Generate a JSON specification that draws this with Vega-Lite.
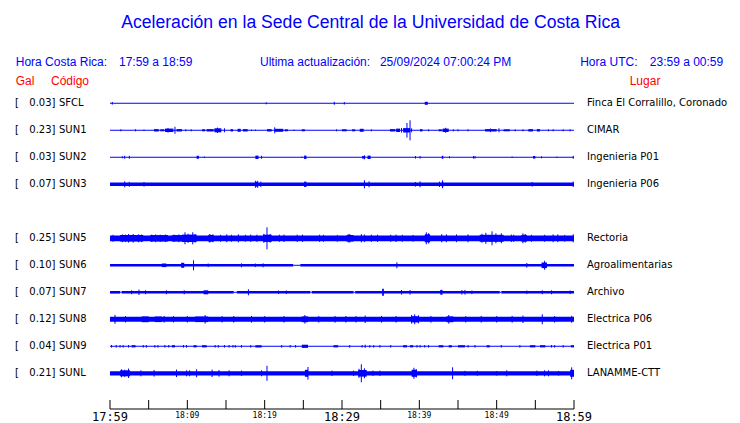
{
  "$schema": "https://vega.github.io/schema/vega-lite/v6.json",
  "width": 740,
  "height": 423,
  "padding": 0,
  "autosize": {"type": "fit", "contains": "padding"},
  "background": "white",
  "config": {"view": {"stroke": null}},
  "datasets": {
    "one": [{}],
    "stations": [
      {"s": "SFCL", "i": 0, "gal": "0.03", "lugar": "Finca El Corralillo, Coronado"},
      {"s": "SUN1", "i": 1, "gal": "0.23", "lugar": "CIMAR"},
      {"s": "SUN2", "i": 2, "gal": "0.03", "lugar": "Ingenieria P01"},
      {"s": "SUN3", "i": 3, "gal": "0.07", "lugar": "Ingenieria P06"},
      {"s": "SUN5", "i": 5, "gal": "0.25", "lugar": "Rectoria"},
      {"s": "SUN6", "i": 6, "gal": "0.10", "lugar": "Agroalimentarias"},
      {"s": "SUN7", "i": 7, "gal": "0.07", "lugar": "Archivo"},
      {"s": "SUN8", "i": 8, "gal": "0.12", "lugar": "Electrica P06"},
      {"s": "SUN9", "i": 9, "gal": "0.04", "lugar": "Electrica P01"},
      {"s": "SUNL", "i": 10, "gal": "0.21", "lugar": "LANAMME-CTT"}
    ],
    "ticks": [
      {"t": 0, "lab": "17:59", "big": 1}, {"t": 5, "lab": "", "big": 0}, {"t": 10, "lab": "18:09", "big": 0},
      {"t": 15, "lab": "", "big": 0}, {"t": 20, "lab": "18:19", "big": 0}, {"t": 25, "lab": "", "big": 0},
      {"t": 30, "lab": "18:29", "big": 1}, {"t": 35, "lab": "", "big": 0}, {"t": 40, "lab": "18:39", "big": 0},
      {"t": 45, "lab": "", "big": 0}, {"t": 50, "lab": "18:49", "big": 0}, {"t": 55, "lab": "", "big": 0},
      {"t": 60, "lab": "18:59", "big": 1}
    ],
    "bursts": [
      {"s": "SFCL", "t0": 0, "t1": 60, "a": 0.5},
      {"s": "SFCL", "t0": 40.7, "t1": 41.1, "a": 1.5},
      {"s": "SUN1", "t0": 0, "t1": 60, "a": 0.5},
      {"s": "SUN1", "t0": 5.7, "t1": 6.3, "a": 1.2},
      {"s": "SUN1", "t0": 6.5, "t1": 7.0, "a": 1.0},
      {"s": "SUN1", "t0": 7.1, "t1": 8.2, "a": 1.7},
      {"s": "SUN1", "t0": 8.6, "t1": 9.3, "a": 1.2},
      {"s": "SUN1", "t0": 11.9, "t1": 12.3, "a": 1.0},
      {"s": "SUN1", "t0": 12.5, "t1": 13.4, "a": 1.2},
      {"s": "SUN1", "t0": 13.5, "t1": 14.4, "a": 2.0},
      {"s": "SUN1", "t0": 15.6, "t1": 15.9, "a": 1.2},
      {"s": "SUN1", "t0": 16.5, "t1": 16.9, "a": 1.5},
      {"s": "SUN1", "t0": 17.2, "t1": 17.8, "a": 1.2},
      {"s": "SUN1", "t0": 20.3, "t1": 20.9, "a": 1.2},
      {"s": "SUN1", "t0": 21.3, "t1": 22.4, "a": 1.5},
      {"s": "SUN1", "t0": 22.6, "t1": 23.0, "a": 1.0},
      {"s": "SUN1", "t0": 24.8, "t1": 25.2, "a": 1.0},
      {"s": "SUN1", "t0": 30.0, "t1": 30.6, "a": 1.0},
      {"s": "SUN1", "t0": 31.3, "t1": 31.7, "a": 1.0},
      {"s": "SUN1", "t0": 32.3, "t1": 32.8, "a": 1.5},
      {"s": "SUN1", "t0": 36.2, "t1": 36.9, "a": 1.2},
      {"s": "SUN1", "t0": 37.0, "t1": 37.5, "a": 1.7},
      {"s": "SUN1", "t0": 37.9, "t1": 38.8, "a": 2.2},
      {"s": "SUN1", "t0": 40.1, "t1": 40.4, "a": 1.2},
      {"s": "SUN1", "t0": 42.5, "t1": 42.9, "a": 1.0},
      {"s": "SUN1", "t0": 43.0, "t1": 43.8, "a": 1.7},
      {"s": "SUN1", "t0": 48.5, "t1": 50.0, "a": 1.2},
      {"s": "SUN1", "t0": 50.9, "t1": 51.7, "a": 1.0},
      {"s": "SUN1", "t0": 54.1, "t1": 54.7, "a": 1.2},
      {"s": "SUN1", "t0": 55.2, "t1": 55.6, "a": 1.2},
      {"s": "SUN2", "t0": 0, "t1": 60, "a": 0.5},
      {"s": "SUN2", "t0": 11.2, "t1": 11.5, "a": 1.5},
      {"s": "SUN2", "t0": 18.8, "t1": 19.2, "a": 1.7},
      {"s": "SUN2", "t0": 25.1, "t1": 25.4, "a": 1.7},
      {"s": "SUN2", "t0": 32.6, "t1": 33.0, "a": 1.3},
      {"s": "SUN2", "t0": 33.3, "t1": 33.7, "a": 1.7},
      {"s": "SUN2", "t0": 42.9, "t1": 43.1, "a": 1.5},
      {"s": "SUN2", "t0": 54.7, "t1": 55.0, "a": 1.3},
      {"s": "SUN3", "t0": 0, "t1": 60, "a": 1.8},
      {"s": "SUN3", "t0": 18.8, "t1": 19.1, "a": 2.5},
      {"s": "SUN3", "t0": 25.1, "t1": 25.4, "a": 2.7},
      {"s": "SUN3", "t0": 42.9, "t1": 43.1, "a": 2.5},
      {"s": "SUN5", "t0": 0, "t1": 60, "a": 2.9},
      {"s": "SUN5", "t0": 1.3, "t1": 4.3, "a": 3.3},
      {"s": "SUN5", "t0": 5.2, "t1": 7.5, "a": 3.2},
      {"s": "SUN5", "t0": 8.0, "t1": 9.3, "a": 3.2},
      {"s": "SUN5", "t0": 9.3, "t1": 11.2, "a": 3.7},
      {"s": "SUN5", "t0": 12.7, "t1": 13.4, "a": 3.4},
      {"s": "SUN5", "t0": 19.8, "t1": 20.9, "a": 3.6},
      {"s": "SUN5", "t0": 30.6, "t1": 31.5, "a": 3.3},
      {"s": "SUN5", "t0": 40.7, "t1": 41.4, "a": 4.0},
      {"s": "SUN5", "t0": 47.8, "t1": 50.9, "a": 3.5},
      {"s": "SUN5", "t0": 53.2, "t1": 53.9, "a": 3.4},
      {"s": "SUN6", "t0": 0, "t1": 23.7, "a": 1.3},
      {"s": "SUN6", "t0": 23.7, "t1": 24.6, "a": 0.5},
      {"s": "SUN6", "t0": 24.6, "t1": 60, "a": 1.3},
      {"s": "SUN6", "t0": 6.7, "t1": 7.3, "a": 1.8},
      {"s": "SUN6", "t0": 9.2, "t1": 9.6, "a": 2.5},
      {"s": "SUN6", "t0": 55.8, "t1": 56.5, "a": 2.8},
      {"s": "SUN7", "t0": 0, "t1": 1.3, "a": 1.3},
      {"s": "SUN7", "t0": 1.3, "t1": 1.5, "a": 0.5},
      {"s": "SUN7", "t0": 1.5, "t1": 16.0, "a": 1.3},
      {"s": "SUN7", "t0": 16.0, "t1": 16.4, "a": 0.5},
      {"s": "SUN7", "t0": 16.4, "t1": 25.9, "a": 1.3},
      {"s": "SUN7", "t0": 25.9, "t1": 26.1, "a": 0.5},
      {"s": "SUN7", "t0": 26.1, "t1": 31.5, "a": 1.3},
      {"s": "SUN7", "t0": 31.5, "t1": 31.7, "a": 0.5},
      {"s": "SUN7", "t0": 31.7, "t1": 50.4, "a": 1.3},
      {"s": "SUN7", "t0": 50.4, "t1": 50.6, "a": 0.5},
      {"s": "SUN7", "t0": 50.6, "t1": 60, "a": 1.3},
      {"s": "SUN7", "t0": 12.1, "t1": 12.7, "a": 2.0},
      {"s": "SUN7", "t0": 35.2, "t1": 35.4, "a": 3.3},
      {"s": "SUN7", "t0": 42.7, "t1": 43.0, "a": 2.4},
      {"s": "SUN8", "t0": 0, "t1": 60, "a": 2.5},
      {"s": "SUN8", "t0": 4.1, "t1": 5.0, "a": 2.9},
      {"s": "SUN8", "t0": 5.8, "t1": 6.7, "a": 2.8},
      {"s": "SUN8", "t0": 11.0, "t1": 12.7, "a": 2.8},
      {"s": "SUN8", "t0": 24.8, "t1": 25.6, "a": 2.9},
      {"s": "SUN8", "t0": 39.0, "t1": 39.9, "a": 3.1},
      {"s": "SUN8", "t0": 43.5, "t1": 44.4, "a": 2.9},
      {"s": "SUN9", "t0": 0, "t1": 60, "a": 0.5},
      {"s": "SUN9", "t0": 2.8, "t1": 3.3, "a": 1.1},
      {"s": "SUN9", "t0": 8.0, "t1": 8.4, "a": 1.1},
      {"s": "SUN9", "t0": 10.8, "t1": 11.2, "a": 1.1},
      {"s": "SUN9", "t0": 11.9, "t1": 12.5, "a": 1.1},
      {"s": "SUN9", "t0": 18.8, "t1": 19.6, "a": 1.1},
      {"s": "SUN9", "t0": 24.8, "t1": 25.6, "a": 1.6},
      {"s": "SUN9", "t0": 28.9, "t1": 29.5, "a": 1.1},
      {"s": "SUN9", "t0": 37.9, "t1": 38.4, "a": 1.1},
      {"s": "SUN9", "t0": 38.8, "t1": 39.2, "a": 1.1},
      {"s": "SUN9", "t0": 42.5, "t1": 43.1, "a": 1.1},
      {"s": "SUN9", "t0": 43.8, "t1": 44.2, "a": 1.1},
      {"s": "SUN9", "t0": 45.0, "t1": 45.9, "a": 1.1},
      {"s": "SUN9", "t0": 48.7, "t1": 49.1, "a": 1.1},
      {"s": "SUN9", "t0": 54.3, "t1": 55.0, "a": 1.1},
      {"s": "SUN9", "t0": 55.6, "t1": 56.3, "a": 1.1},
      {"s": "SUN9", "t0": 59.6, "t1": 60.0, "a": 1.1},
      {"s": "SUNL", "t0": 0, "t1": 60, "a": 2.1},
      {"s": "SUNL", "t0": 1.3, "t1": 2.6, "a": 3.0},
      {"s": "SUNL", "t0": 25.2, "t1": 25.6, "a": 3.5},
      {"s": "SUNL", "t0": 32.1, "t1": 33.2, "a": 3.3},
      {"s": "SUNL", "t0": 39.0, "t1": 39.7, "a": 3.5},
      {"s": "SUNL", "t0": 59.5, "t1": 60.0, "a": 3.5}
    ],
    "spikes": [
      {"s": "SFCL", "t": 0.3, "a": 1.3}, {"s": "SFCL", "t": 20.2, "a": 1.0}, {"s": "SFCL", "t": 29.0, "a": 1.5}, {"s": "SFCL", "t": 30.3, "a": 1.2},
      {"s": "SUN1", "t": 1.4, "a": 1}, {"s": "SUN1", "t": 3.3, "a": 1}, {"s": "SUN1", "t": 4.4, "a": 0.7}, {"s": "SUN1", "t": 8.4, "a": 3.5},
      {"s": "SUN1", "t": 9.8, "a": 1}, {"s": "SUN1", "t": 10.5, "a": 1}, {"s": "SUN1", "t": 14.8, "a": 2}, {"s": "SUN1", "t": 18.3, "a": 0.7},
      {"s": "SUN1", "t": 18.8, "a": 0.7}, {"s": "SUN1", "t": 21.3, "a": 3}, {"s": "SUN1", "t": 23.8, "a": 0.7}, {"s": "SUN1", "t": 29.3, "a": 1},
      {"s": "SUN1", "t": 33.8, "a": 1}, {"s": "SUN1", "t": 37.7, "a": 2.3}, {"s": "SUN1", "t": 38.4, "a": 7.3}, {"s": "SUN1", "t": 38.8, "a": 10},
      {"s": "SUN1", "t": 39.0, "a": 2}, {"s": "SUN1", "t": 41.2, "a": 1}, {"s": "SUN1", "t": 44.4, "a": 1}, {"s": "SUN1", "t": 45.0, "a": 1},
      {"s": "SUN1", "t": 46.3, "a": 1}, {"s": "SUN1", "t": 50.3, "a": 2}, {"s": "SUN1", "t": 52.4, "a": 1}, {"s": "SUN1", "t": 53.4, "a": 1},
      {"s": "SUN1", "t": 56.7, "a": 1}, {"s": "SUN1", "t": 57.3, "a": 1}, {"s": "SUN1", "t": 58.6, "a": 1}, {"s": "SUN1", "t": 59.5, "a": 1},
      {"s": "SUN1", "t": 7.5, "a": 2.3}, {"s": "SUN1", "t": 13.9, "a": 2.7}, {"s": "SUN1", "t": 43.4, "a": 2.5}, {"s": "SUN1", "t": 49.2, "a": 1.8},
      {"s": "SUN2", "t": 1.6, "a": 1}, {"s": "SUN2", "t": 1.9, "a": 1.5}, {"s": "SUN2", "t": 2.5, "a": 1.5}, {"s": "SUN2", "t": 12.2, "a": 0.7},
      {"s": "SUN2", "t": 19.6, "a": 1.5}, {"s": "SUN2", "t": 24.8, "a": 0.7}, {"s": "SUN2", "t": 32.9, "a": 2}, {"s": "SUN2", "t": 39.5, "a": 1.3},
      {"s": "SUN2", "t": 40.1, "a": 1.3}, {"s": "SUN2", "t": 43.9, "a": 1}, {"s": "SUN2", "t": 47.0, "a": 1.3}, {"s": "SUN2", "t": 47.2, "a": 1.3},
      {"s": "SUN2", "t": 52.0, "a": 0.7}, {"s": "SUN2", "t": 55.8, "a": 1}, {"s": "SUN2", "t": 57.8, "a": 0.7}, {"s": "SUN2", "t": 59.9, "a": 1.5},
      {"s": "SUN3", "t": 1.9, "a": 3}, {"s": "SUN3", "t": 2.5, "a": 2.5}, {"s": "SUN3", "t": 4.4, "a": 2.3}, {"s": "SUN3", "t": 18.8, "a": 3.5},
      {"s": "SUN3", "t": 19.1, "a": 3.5}, {"s": "SUN3", "t": 19.5, "a": 2.7}, {"s": "SUN3", "t": 32.9, "a": 4}, {"s": "SUN3", "t": 33.5, "a": 3},
      {"s": "SUN3", "t": 39.5, "a": 2.3}, {"s": "SUN3", "t": 40.1, "a": 3}, {"s": "SUN3", "t": 42.6, "a": 2.7}, {"s": "SUN3", "t": 43.0, "a": 4},
      {"s": "SUN3", "t": 54.6, "a": 2.3}, {"s": "SUN3", "t": 59.9, "a": 2.7},
      {"s": "SUN5", "t": 2.4, "a": 4.3}, {"s": "SUN5", "t": 3.0, "a": 4.3}, {"s": "SUN5", "t": 3.7, "a": 4.0}, {"s": "SUN5", "t": 9.7, "a": 6},
      {"s": "SUN5", "t": 10.7, "a": 6}, {"s": "SUN5", "t": 15.1, "a": 4}, {"s": "SUN5", "t": 15.7, "a": 3.5}, {"s": "SUN5", "t": 16.6, "a": 4},
      {"s": "SUN5", "t": 20.3, "a": 11}, {"s": "SUN5", "t": 31.0, "a": 4.3}, {"s": "SUN5", "t": 40.9, "a": 6}, {"s": "SUN5", "t": 46.3, "a": 4},
      {"s": "SUN5", "t": 48.6, "a": 5.5}, {"s": "SUN5", "t": 49.4, "a": 7}, {"s": "SUN5", "t": 50.6, "a": 5}, {"s": "SUN5", "t": 53.4, "a": 5},
      {"s": "SUN5", "t": 54.5, "a": 3.5}, {"s": "SUN5", "t": 56.2, "a": 3.5}, {"s": "SUN5", "t": 59.9, "a": 4},
      {"s": "SUN5", "t": 0.4, "a": 3.5}, {"s": "SUN5", "t": 1.6, "a": 3.9}, {"s": "SUN5", "t": 2.0, "a": 3.7}, {"s": "SUN5", "t": 4.1, "a": 3.8},
      {"s": "SUN5", "t": 5.4, "a": 3.7}, {"s": "SUN5", "t": 5.9, "a": 3.9}, {"s": "SUN5", "t": 6.5, "a": 3.6}, {"s": "SUN5", "t": 7.2, "a": 3.8},
      {"s": "SUN5", "t": 8.3, "a": 3.7}, {"s": "SUN5", "t": 8.9, "a": 3.9}, {"s": "SUN5", "t": 10.1, "a": 4.6}, {"s": "SUN5", "t": 11.0, "a": 4.3},
      {"s": "SUN5", "t": 12.9, "a": 4.3}, {"s": "SUN5", "t": 13.3, "a": 3.9}, {"s": "SUN5", "t": 14.3, "a": 3.5}, {"s": "SUN5", "t": 17.5, "a": 3.5},
      {"s": "SUN5", "t": 18.2, "a": 3.7}, {"s": "SUN5", "t": 19.0, "a": 3.6}, {"s": "SUN5", "t": 19.9, "a": 4.5}, {"s": "SUN5", "t": 20.7, "a": 4.3},
      {"s": "SUN5", "t": 21.9, "a": 3.6}, {"s": "SUN5", "t": 22.5, "a": 3.7}, {"s": "SUN5", "t": 24.2, "a": 3.6}, {"s": "SUN5", "t": 24.9, "a": 3.7},
      {"s": "SUN5", "t": 27.1, "a": 3.6}, {"s": "SUN5", "t": 27.6, "a": 3.5}, {"s": "SUN5", "t": 29.4, "a": 3.4}, {"s": "SUN5", "t": 30.8, "a": 4.1},
      {"s": "SUN5", "t": 32.5, "a": 4.1}, {"s": "SUN5", "t": 32.9, "a": 3.8}, {"s": "SUN5", "t": 33.8, "a": 3.6}, {"s": "SUN5", "t": 34.6, "a": 3.6},
      {"s": "SUN5", "t": 36.3, "a": 3.6}, {"s": "SUN5", "t": 37.0, "a": 3.7}, {"s": "SUN5", "t": 37.8, "a": 3.5}, {"s": "SUN5", "t": 39.2, "a": 3.4},
      {"s": "SUN5", "t": 41.2, "a": 5.2}, {"s": "SUN5", "t": 42.9, "a": 4.1}, {"s": "SUN5", "t": 43.5, "a": 3.9}, {"s": "SUN5", "t": 44.8, "a": 3.9},
      {"s": "SUN5", "t": 48.1, "a": 4.5}, {"s": "SUN5", "t": 49.9, "a": 5.0}, {"s": "SUN5", "t": 51.9, "a": 3.7}, {"s": "SUN5", "t": 52.2, "a": 3.6},
      {"s": "SUN5", "t": 53.7, "a": 4.3}, {"s": "SUN5", "t": 57.3, "a": 3.9}, {"s": "SUN5", "t": 57.9, "a": 3.9}, {"s": "SUN5", "t": 58.8, "a": 3.4},
      {"s": "SUN6", "t": 10.8, "a": 5}, {"s": "SUN6", "t": 12.7, "a": 1.8}, {"s": "SUN6", "t": 17.0, "a": 2}, {"s": "SUN6", "t": 18.8, "a": 1.8},
      {"s": "SUN6", "t": 19.8, "a": 2}, {"s": "SUN6", "t": 37.1, "a": 3}, {"s": "SUN6", "t": 53.9, "a": 2.3}, {"s": "SUN6", "t": 56.2, "a": 4.5},
      {"s": "SUN7", "t": 2.8, "a": 2}, {"s": "SUN7", "t": 3.75, "a": 2.7}, {"s": "SUN7", "t": 4.6, "a": 2}, {"s": "SUN7", "t": 7.3, "a": 2},
      {"s": "SUN7", "t": 9.6, "a": 2}, {"s": "SUN7", "t": 17.9, "a": 3}, {"s": "SUN7", "t": 21.8, "a": 1.8}, {"s": "SUN7", "t": 22.8, "a": 1.8},
      {"s": "SUN7", "t": 35.3, "a": 3.7}, {"s": "SUN7", "t": 37.7, "a": 2.3}, {"s": "SUN7", "t": 38.8, "a": 2.3}, {"s": "SUN7", "t": 45.5, "a": 2.3},
      {"s": "SUN7", "t": 45.9, "a": 2.3}, {"s": "SUN7", "t": 46.8, "a": 1.8}, {"s": "SUN7", "t": 53.9, "a": 1.8}, {"s": "SUN7", "t": 55.9, "a": 2},
      {"s": "SUN7", "t": 57.1, "a": 2}, {"s": "SUN7", "t": 59.5, "a": 1.8},
      {"s": "SUN8", "t": 0.65, "a": 4.5}, {"s": "SUN8", "t": 2.0, "a": 3.2}, {"s": "SUN8", "t": 7.0, "a": 3.3}, {"s": "SUN8", "t": 8.2, "a": 3.2},
      {"s": "SUN8", "t": 10.0, "a": 3.2}, {"s": "SUN8", "t": 12.3, "a": 4.3}, {"s": "SUN8", "t": 14.5, "a": 3.2}, {"s": "SUN8", "t": 16.0, "a": 3.3},
      {"s": "SUN8", "t": 18.3, "a": 3.4}, {"s": "SUN8", "t": 20.0, "a": 3.2}, {"s": "SUN8", "t": 22.5, "a": 3.3}, {"s": "SUN8", "t": 25.2, "a": 4.3},
      {"s": "SUN8", "t": 27.0, "a": 3.2}, {"s": "SUN8", "t": 29.1, "a": 3.4}, {"s": "SUN8", "t": 30.5, "a": 3.3}, {"s": "SUN8", "t": 31.8, "a": 3.2},
      {"s": "SUN8", "t": 33.0, "a": 3.7}, {"s": "SUN8", "t": 35.1, "a": 3.4}, {"s": "SUN8", "t": 37.0, "a": 3.3}, {"s": "SUN8", "t": 39.0, "a": 4.3},
      {"s": "SUN8", "t": 39.4, "a": 5}, {"s": "SUN8", "t": 39.9, "a": 4}, {"s": "SUN8", "t": 41.5, "a": 3.3}, {"s": "SUN8", "t": 43.8, "a": 4.3},
      {"s": "SUN8", "t": 46.0, "a": 3.2}, {"s": "SUN8", "t": 48.0, "a": 3.3}, {"s": "SUN8", "t": 50.0, "a": 3.2}, {"s": "SUN8", "t": 52.0, "a": 3.4},
      {"s": "SUN8", "t": 53.4, "a": 3.7}, {"s": "SUN8", "t": 55.9, "a": 5}, {"s": "SUN8", "t": 57.5, "a": 3.3}, {"s": "SUN8", "t": 59.7, "a": 3.5},
      {"s": "SUN9", "t": 0.2, "a": 1.3}, {"s": "SUN9", "t": 0.8, "a": 1.3}, {"s": "SUN9", "t": 1.3, "a": 1.3}, {"s": "SUN9", "t": 1.7, "a": 1.3},
      {"s": "SUN9", "t": 2.4, "a": 1.3}, {"s": "SUN9", "t": 4.3, "a": 1.3}, {"s": "SUN9", "t": 4.7, "a": 1.3}, {"s": "SUN9", "t": 5.8, "a": 1.3},
      {"s": "SUN9", "t": 6.2, "a": 1.3}, {"s": "SUN9", "t": 7.1, "a": 1.3}, {"s": "SUN9", "t": 7.6, "a": 1.3}, {"s": "SUN9", "t": 9.5, "a": 1.3},
      {"s": "SUN9", "t": 9.9, "a": 1.3}, {"s": "SUN9", "t": 13.6, "a": 1.3}, {"s": "SUN9", "t": 14.0, "a": 1.3}, {"s": "SUN9", "t": 14.8, "a": 1.3},
      {"s": "SUN9", "t": 15.4, "a": 1.3}, {"s": "SUN9", "t": 15.9, "a": 1.3}, {"s": "SUN9", "t": 16.2, "a": 1.3}, {"s": "SUN9", "t": 17.0, "a": 1.3},
      {"s": "SUN9", "t": 18.2, "a": 1.3}, {"s": "SUN9", "t": 22.2, "a": 1.3}, {"s": "SUN9", "t": 23.3, "a": 1.3}, {"s": "SUN9", "t": 24.0, "a": 1.3},
      {"s": "SUN9", "t": 31.0, "a": 1.3}, {"s": "SUN9", "t": 32.6, "a": 1.3}, {"s": "SUN9", "t": 33.0, "a": 1.6}, {"s": "SUN9", "t": 33.6, "a": 1.3},
      {"s": "SUN9", "t": 34.1, "a": 1.3}, {"s": "SUN9", "t": 34.9, "a": 1.3}, {"s": "SUN9", "t": 36.3, "a": 1.3}, {"s": "SUN9", "t": 39.7, "a": 1.3},
      {"s": "SUN9", "t": 40.1, "a": 1.3}, {"s": "SUN9", "t": 40.7, "a": 1.3}, {"s": "SUN9", "t": 41.2, "a": 1.3}, {"s": "SUN9", "t": 46.3, "a": 1.3},
      {"s": "SUN9", "t": 47.2, "a": 1.3}, {"s": "SUN9", "t": 50.6, "a": 1.3}, {"s": "SUN9", "t": 53.0, "a": 1.3}, {"s": "SUN9", "t": 57.1, "a": 1.3},
      {"s": "SUN9", "t": 57.5, "a": 1.3}, {"s": "SUN9", "t": 58.6, "a": 1.3},
      {"s": "SUNL", "t": 1.5, "a": 4}, {"s": "SUNL", "t": 2.4, "a": 4.7}, {"s": "SUNL", "t": 4.0, "a": 3}, {"s": "SUNL", "t": 5.7, "a": 3.3},
      {"s": "SUNL", "t": 8.6, "a": 3.7}, {"s": "SUNL", "t": 9.9, "a": 3}, {"s": "SUNL", "t": 10.3, "a": 3}, {"s": "SUNL", "t": 11.2, "a": 4},
      {"s": "SUNL", "t": 13.2, "a": 3.7}, {"s": "SUNL", "t": 14.1, "a": 3.3}, {"s": "SUNL", "t": 15.4, "a": 3}, {"s": "SUNL", "t": 17.0, "a": 2.7},
      {"s": "SUNL", "t": 19.6, "a": 3}, {"s": "SUNL", "t": 20.3, "a": 7.5}, {"s": "SUNL", "t": 25.6, "a": 6.3}, {"s": "SUNL", "t": 28.7, "a": 2.7},
      {"s": "SUNL", "t": 31.5, "a": 2.7}, {"s": "SUNL", "t": 32.5, "a": 9}, {"s": "SUNL", "t": 34.0, "a": 2.7}, {"s": "SUNL", "t": 34.9, "a": 2.7},
      {"s": "SUNL", "t": 39.3, "a": 5.5}, {"s": "SUNL", "t": 44.3, "a": 6}, {"s": "SUNL", "t": 45.9, "a": 2.5}, {"s": "SUNL", "t": 47.5, "a": 2.5},
      {"s": "SUNL", "t": 50.0, "a": 2.3}, {"s": "SUNL", "t": 51.3, "a": 3}, {"s": "SUNL", "t": 55.2, "a": 2.7}, {"s": "SUNL", "t": 56.2, "a": 3},
      {"s": "SUNL", "t": 56.7, "a": 3}, {"s": "SUNL", "t": 58.0, "a": 2.3}, {"s": "SUNL", "t": 59.7, "a": 6},
      {"s": "SUNL", "t": 1.9, "a": 3.6}, {"s": "SUNL", "t": 32.2, "a": 4.5}, {"s": "SUNL", "t": 32.9, "a": 5.0}, {"s": "SUNL", "t": 39.6, "a": 4.2}
    ]
  },
  "layer": [
    {
      "data": {"name": "bursts"},
      "transform": [
        {"lookup": "s", "from": {"data": {"name": "stations"}, "key": "s", "fields": ["i"]}},
        {"calculate": "datum.i * 27 - datum.a", "as": "y1"},
        {"calculate": "datum.i * 27 + datum.a", "as": "y2"}
      ],
      "mark": {"type": "rect", "color": "#0000ff"},
      "encoding": {
        "x": {"field": "t0", "type": "quantitative", "scale": {"domain": [-14.2241, 81.4655], "nice": false, "zero": false}, "axis": null},
        "x2": {"field": "t1"},
        "y": {"field": "y1", "type": "quantitative", "scale": {"domain": [-103.3, 319.7], "reverse": true, "nice": false, "zero": false}, "axis": null},
        "y2": {"field": "y2"}
      }
    },
    {
      "data": {"name": "spikes"},
      "transform": [
        {"lookup": "s", "from": {"data": {"name": "stations"}, "key": "s", "fields": ["i"]}},
        {"calculate": "datum.i * 27 - datum.a", "as": "y1"},
        {"calculate": "datum.i * 27 + datum.a", "as": "y2"}
      ],
      "mark": {"type": "rule", "color": "#0000ff", "strokeWidth": 1},
      "encoding": {
        "x": {"field": "t", "type": "quantitative", "scale": {"domain": [-14.2241, 81.4655], "nice": false, "zero": false}, "axis": null},
        "y": {"field": "y1", "type": "quantitative", "scale": {"domain": [-103.3, 319.7], "reverse": true, "nice": false, "zero": false}, "axis": null},
        "y2": {"field": "y2"}
      }
    },
    {
      "data": {"name": "stations"},
      "transform": [{"calculate": "datum.i * 27", "as": "yy"}],
      "mark": {"type": "text", "align": "left", "baseline": "middle", "font": "DejaVu Sans", "fontSize": 10, "color": "black"},
      "encoding": {
        "x": {"datum": -12.284, "type": "quantitative"},
        "y": {"field": "yy", "type": "quantitative"},
        "text": {"value": "["}
      }
    },
    {
      "data": {"name": "stations"},
      "transform": [{"calculate": "datum.i * 27", "as": "yy"}, {"calculate": "datum.gal + ']'", "as": "lab"}],
      "mark": {"type": "text", "align": "right", "baseline": "middle", "font": "DejaVu Sans", "fontSize": 10, "color": "black"},
      "encoding": {
        "x": {"datum": -7.05, "type": "quantitative"},
        "y": {"field": "yy", "type": "quantitative"},
        "text": {"field": "lab"}
      }
    },
    {
      "data": {"name": "stations"},
      "transform": [{"calculate": "datum.i * 27", "as": "yy"}],
      "mark": {"type": "text", "align": "left", "baseline": "middle", "font": "DejaVu Sans", "fontSize": 10, "color": "black"},
      "encoding": {
        "x": {"datum": -6.595, "type": "quantitative"},
        "y": {"field": "yy", "type": "quantitative"},
        "text": {"field": "s"}
      }
    },
    {
      "data": {"name": "stations"},
      "transform": [{"calculate": "datum.i * 27", "as": "yy"}],
      "mark": {"type": "text", "align": "left", "baseline": "middle", "font": "DejaVu Sans", "fontSize": 10, "color": "black"},
      "encoding": {
        "x": {"datum": 61.68, "type": "quantitative"},
        "y": {"field": "yy", "type": "quantitative"},
        "text": {"field": "lugar"}
      }
    },
    {
      "data": {"name": "one"},
      "mark": {"type": "text", "align": "center", "baseline": "middle", "font": "Liberation Sans", "fontSize": 17.6, "color": "#0000ff"},
      "encoding": {
        "x": {"datum": 33.7, "type": "quantitative"},
        "y": {"datum": -80.8, "type": "quantitative"},
        "text": {"value": "Aceleración en la Sede Central de la Universidad de Costa Rica"}
      }
    },
    {
      "data": {"values": [
        {"txt": "Hora Costa Rica:", "p": -12.19},
        {"txt": "17:59 a 18:59", "p": 1.16},
        {"txt": "Ultima actualización:", "p": 19.4},
        {"txt": "25/09/2024 07:00:24 PM", "p": 34.9},
        {"txt": "Hora UTC:", "p": 60.8},
        {"txt": "23:59 a 00:59", "p": 69.8}
      ]},
      "mark": {"type": "text", "align": "left", "baseline": "middle", "font": "Liberation Sans", "fontSize": 12, "color": "#0000ff"},
      "encoding": {
        "x": {"field": "p", "type": "quantitative"},
        "y": {"datum": -41.8, "type": "quantitative"},
        "text": {"field": "txt"}
      }
    },
    {
      "data": {"values": [
        {"txt": "Gal", "p": -12.19},
        {"txt": "Código", "p": -7.63},
        {"txt": "Lugar", "p": 67.2}
      ]},
      "mark": {"type": "text", "align": "left", "baseline": "middle", "font": "Liberation Sans", "fontSize": 12, "color": "#ff0000"},
      "encoding": {
        "x": {"field": "p", "type": "quantitative"},
        "y": {"datum": -22.8, "type": "quantitative"},
        "text": {"field": "txt"}
      }
    },
    {
      "data": {"name": "ticks"},
      "mark": {"type": "rule", "color": "black", "strokeWidth": 1},
      "encoding": {
        "x": {"field": "t", "type": "quantitative"},
        "y": {"datum": 296.7, "type": "quantitative"},
        "y2": {"datum": 305.7}
      }
    },
    {
      "data": {"name": "one"},
      "mark": {"type": "rule", "color": "black", "strokeWidth": 1},
      "encoding": {
        "x": {"datum": 0, "type": "quantitative"},
        "x2": {"datum": 60},
        "y": {"datum": 305.7, "type": "quantitative"}
      }
    },
    {
      "data": {"name": "ticks"},
      "transform": [{"filter": "datum.big == 1"}],
      "mark": {"type": "text", "align": "center", "baseline": "middle", "font": "DejaVu Sans Mono", "fontSize": 12, "color": "black"},
      "encoding": {
        "x": {"field": "t", "type": "quantitative"},
        "y": {"datum": 313.5, "type": "quantitative"},
        "text": {"field": "lab"}
      }
    },
    {
      "data": {"name": "ticks"},
      "transform": [{"filter": "datum.big == 0 && datum.lab != ''"}],
      "mark": {"type": "text", "align": "center", "baseline": "middle", "font": "DejaVu Sans Mono", "fontSize": 8, "color": "black"},
      "encoding": {
        "x": {"field": "t", "type": "quantitative"},
        "y": {"datum": 312.8, "type": "quantitative"},
        "text": {"field": "lab"}
      }
    }
  ]
}
